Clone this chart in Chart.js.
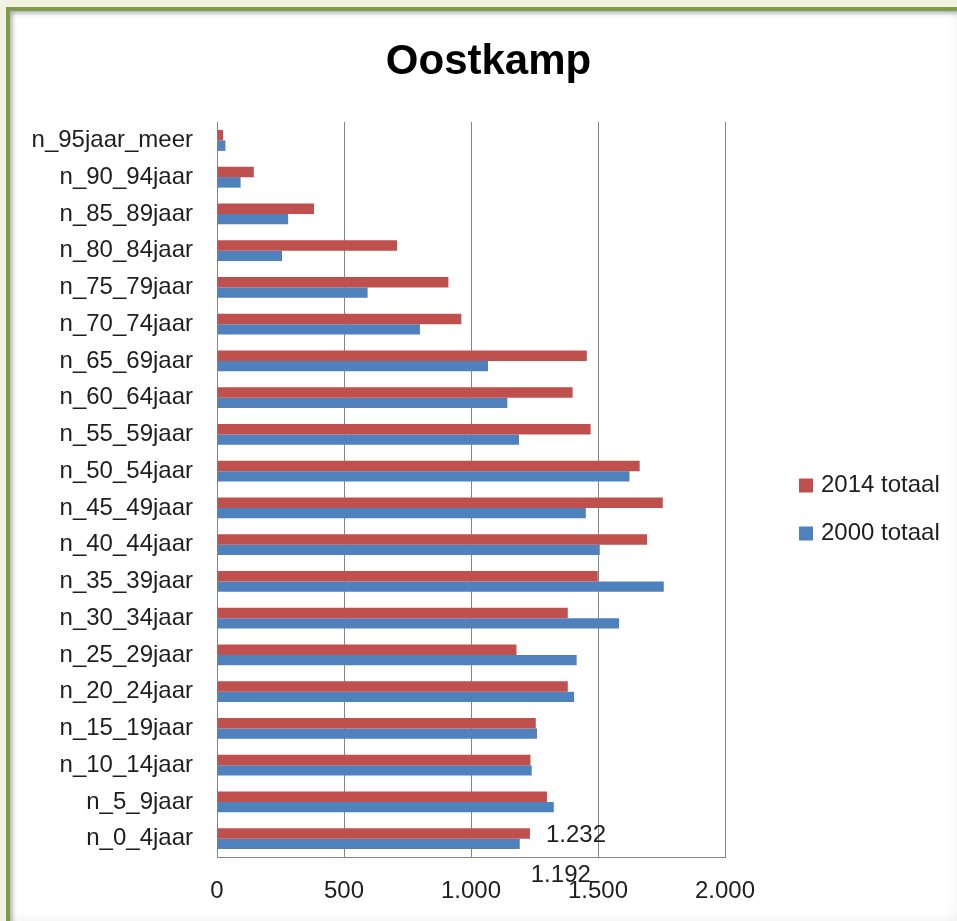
<!DOCTYPE html>
<html>
<head>
<meta charset="utf-8">
<title>Oostkamp</title>
<script src="https://cdn.jsdelivr.net/npm/chart.js@4/dist/chart.umd.min.js"></script>
<style>
  html, body { margin: 0; padding: 0; }
  body { width: 957px; height: 921px; overflow: hidden; background: #f2f2e1; position: relative; }
  /* green frame with soft inner shading, like the original screenshot */
  #frame {
    position: absolute; left: 6px; top: 7px; width: 960px; height: 920px;
    background: #fff;
    border-left: 4px solid #7f9b4b; border-top: 4px solid #7f9b4b;
    box-shadow: inset 2px 2px 5px rgba(0,0,0,0.35), inset -16px -14px 16px -8px rgba(0,0,0,0.12);
  }
  #chart { position: absolute; left: 0; top: 0; }
</style>
</head>
<body>
<div id="frame"></div>
<canvas id="chart" width="957" height="921"></canvas>
<script>
// chart data (top row first)
const ageGroups = [
  'n_95jaar_meer', 'n_90_94jaar', 'n_85_89jaar', 'n_80_84jaar', 'n_75_79jaar',
  'n_70_74jaar', 'n_65_69jaar', 'n_60_64jaar', 'n_55_59jaar', 'n_50_54jaar',
  'n_45_49jaar', 'n_40_44jaar', 'n_35_39jaar', 'n_30_34jaar', 'n_25_29jaar',
  'n_20_24jaar', 'n_15_19jaar', 'n_10_14jaar', 'n_5_9jaar', 'n_0_4jaar'
];
const total2014 = [24, 145, 382, 709, 911, 962, 1456, 1400, 1471, 1664,
                   1755, 1693, 1499, 1381, 1179, 1381, 1255, 1234, 1299, 1232];
const total2000 = [33, 93, 280, 256, 593, 799, 1067, 1143, 1189, 1624,
                   1452, 1507, 1759, 1583, 1416, 1406, 1260, 1239, 1326, 1192];
const seriesNames = ['2014 totaal', '2000 totaal'];
const seriesColors = ['#c0504d', '#4f81bd'];
const xTickMin = 0;
const xTickMax = 2000;
const xTickStep = 500;
const chartTitle = 'Oostkamp';
const labelledGroups = ['n_0_4jaar'];   // only this row carries value labels

const FONT = "'Liberation Sans', Arial, sans-serif";
const TEXT = '#1e1e1e';
const GRID = '#868686';

// 1232 -> "1.232"
function fmt(v) {
  return String(v).replace(/\B(?=(\d{3})+(?!\d))/g, '.');
}

// title centred over the whole chart (legend included), as Excel does
const chartHeading = {
  id: 'chartHeading',
  afterDraw(chart) {
    const ctx = chart.ctx;
    ctx.save();
    ctx.font = 'bold 42px ' + FONT;
    ctx.fillStyle = '#000';
    ctx.textAlign = 'center';
    ctx.textBaseline = 'middle';
    ctx.fillText(chartTitle, chart.width / 2 + 10, chart.chartArea.top - 60);
    ctx.restore();
  }
};

// value labels next to the bars of the labelled rows
const valueLabels = {
  id: 'valueLabels',
  afterDatasetsDraw(chart) {
    const ctx = chart.ctx;
    ctx.save();
    ctx.font = '24px ' + FONT;
    ctx.fillStyle = TEXT;
    ctx.textAlign = 'left';
    ctx.textBaseline = 'middle';
    chart.data.datasets.forEach(function (ds, di) {
      const meta = chart.getDatasetMeta(di);
      labelledGroups.forEach(function (g) {
        const i = chart.data.labels.indexOf(g);
        const bar = meta.data[i];
        if (!bar) return;
        // Excel pushed the second label below the bar
        const dx = di === 0 ? 16 : 11;
        const dy = di === 0 ? 2 : 32;
        ctx.fillText(fmt(ds.data[i]), bar.x + dx, bar.y + dy);
      });
    });
    ctx.restore();
  }
};

// legend on the right, drawn from the datasets
const sideLegend = {
  id: 'sideLegend',
  afterDraw(chart) {
    const ctx = chart.ctx;
    const area = chart.chartArea;
    const x = area.right + 74;
    let y = (area.top + area.bottom) / 2 - 4;
    ctx.save();
    ctx.font = '24px ' + FONT;
    ctx.textAlign = 'left';
    ctx.textBaseline = 'middle';
    chart.data.datasets.forEach(function (ds) {
      ctx.fillStyle = ds.backgroundColor;
      ctx.fillRect(x, y - 7, 14, 14);
      ctx.fillStyle = TEXT;
      ctx.fillText(ds.label, x + 22, y);
      y += 48;
    });
    ctx.restore();
  }
};

const ctx = document.getElementById('chart').getContext('2d');
const chart = new Chart(ctx, {
  type: 'bar',
  data: {
    labels: ageGroups,
    datasets: [
      { label: seriesNames[0], data: total2014, backgroundColor: seriesColors[0] },
      { label: seriesNames[1], data: total2000, backgroundColor: seriesColors[1] }
    ]
  },
  options: {
    indexAxis: 'y',
    responsive: false,
    animation: false,
    datasets: {
      bar: { categoryPercentage: 0.571, barPercentage: 1, borderWidth: 0 }
    },
    layout: { padding: { left: 10, right: 232, top: 122, bottom: 15 } },
    plugins: {
      legend: { display: false },
      tooltip: { enabled: false },
      title: { display: false }
    },
    scales: {
      x: {
        min: xTickMin,
        max: xTickMax,
        ticks: {
          stepSize: xTickStep,
          color: TEXT,
          font: { family: FONT, size: 24 },
          padding: 20,
          callback: function (v) { return fmt(v); }
        },
        grid: { color: GRID, lineWidth: 1, drawTicks: false },
        border: { color: GRID, width: 1 },
        afterFit: function (scale) { scale.height = 49; }
      },
      y: {
        ticks: {
          color: TEXT,
          font: { family: FONT, size: 24 },
          padding: 24,
          autoSkip: false
        },
        grid: { display: false, drawTicks: false },
        border: { color: GRID, width: 1 },
        afterFit: function (scale) { scale.width = 207; }
      }
    }
  },
  plugins: [chartHeading, valueLabels, sideLegend]
});
</script>
</body>
</html>
